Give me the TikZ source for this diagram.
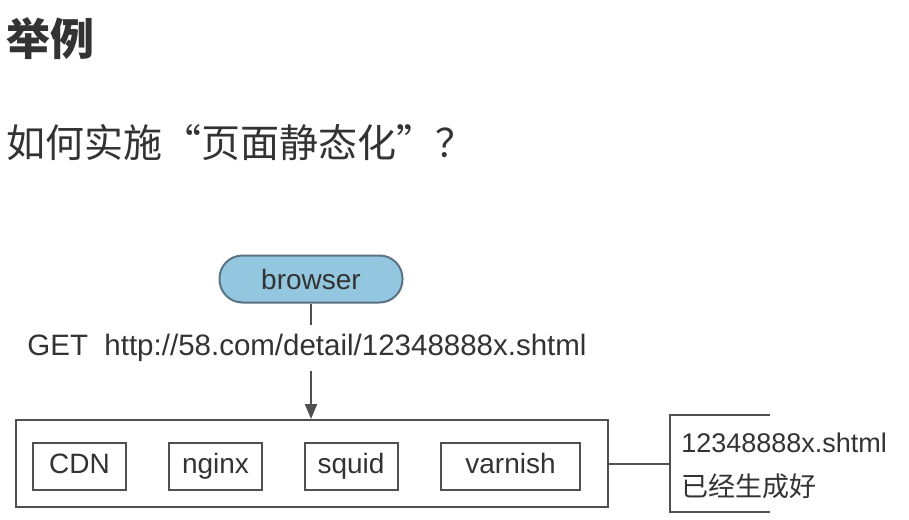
\documentclass[tikz,border=0pt]{standalone}
\usepackage{fontspec}
\setmainfont{Liberation Sans}
\newfontfamily\cjk{Noto Sans CJK SC}
\usetikzlibrary{arrows.meta,positioning}
\definecolor{txtgray}{HTML}{333333}
\definecolor{linegray}{HTML}{505050}
\definecolor{skyfill}{HTML}{92C7DF}
\definecolor{skyline}{HTML}{5B7282}
\tikzset{
proxy/.style={draw=linegray, minimum width=93pt, minimum height=47pt, inner sep=0pt, text height=20pt, text depth=6pt},
}

\begin{document}
\begin{tikzpicture}[x=1pt,y=-1pt,line width=2pt,text=txtgray,font=\fontsize{28}{32}\selectfont]
\useasboundingbox[fill=white] (0,0) rectangle (909,519);
% title and question
\node at (2,39) [anchor=west, font=\cjk\bfseries\fontsize{44}{48}\selectfont] (title) {举例};
\node at (2,143) [anchor=west, font=\cjk\fontsize{39}{44}\selectfont] (question) {如何实施“页面静态化”？};
% request
\node at (311,279) [draw=skyline, fill=skyfill, rounded corners=23pt, minimum width=183pt, minimum height=47pt, inner sep=0pt] (browser) {browser};
\node at (307,348) [inner sep=8.5pt, font=\fontsize{29.5}{32}\selectfont] (get) {GET\ \ http://58.com/detail/12348888x.shtml};
% cache layer
\node at (311.5,463.5) [draw=linegray, minimum width=592pt, minimum height=87pt] (cache) {};
\node at (79.5,466) [proxy] (cdn) {CDN};
\node at (215.5,466) [proxy] (nginx) {nginx};
\node at (351,466) [proxy] (squid) {squid};
\node at (510.5,466) [proxy, minimum width=139pt] (varnish) {varnish};
% note
\node at (670,463.5) [anchor=west, minimum width=98pt, minimum height=95pt, inner sep=0pt] (note) {};
\node at (677,466) [anchor=west, align=left, font=\fontsize{27}{44}\selectfont] (notetext) {12348888x.shtml\\{\cjk 已经生成好}};
\draw[linegray] (note.north east) -- (note.north west) -- (note.south west) -- (note.south east);
% connectors
\draw[linegray] (browser.south) -- (browser.south |- get.north);
\draw[linegray,-{Triangle[length=15pt,width=12pt]}] (browser.south |- get.south) -- (browser.south |- cache.north);
\draw[linegray] (cache.east) -- (note.west);
\end{tikzpicture}
\end{document}
